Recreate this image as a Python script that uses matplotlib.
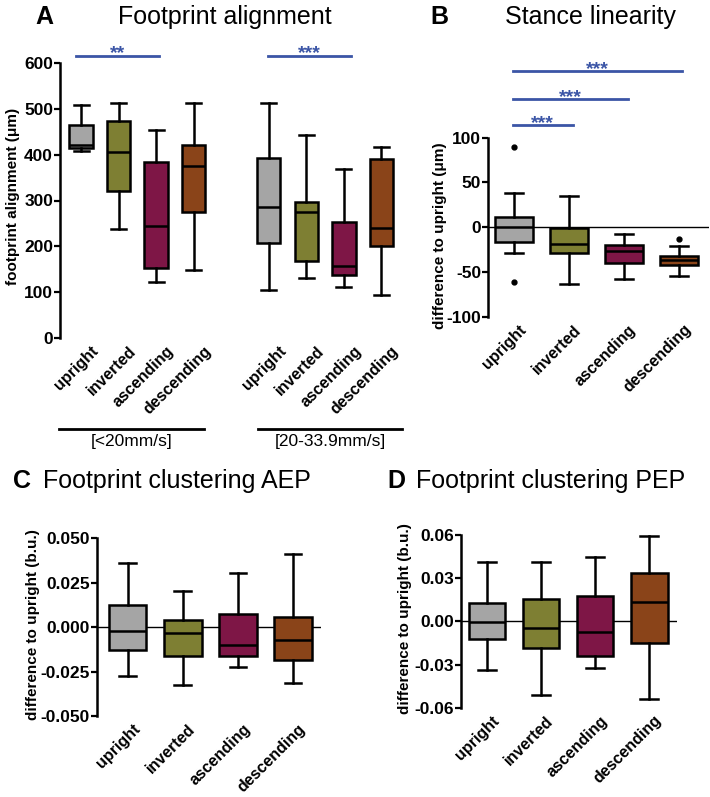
import matplotlib
matplotlib.use("Agg")
import matplotlib.pyplot as plt

plt.rcParams["font.family"] = "Liberation Sans"
plt.rcParams["axes.unicode_minus"] = False

conditions = ["upright", "inverted", "ascending", "descending"]
colors = ["#a5a5a5", "#7e7f33", "#7e1646", "#8a4419"]
blue = "#3b55a6"

# panel A: footprint alignment (um), two speed groups
# each box: (whislo, q1, median, q3, whishi)
a_slow = [(408, 415, 420, 465, 508), (237, 321, 406, 474, 512),
          (123, 152, 244, 385, 454), (148, 276, 375, 421, 512)]
a_fast = [(105, 207, 286, 392, 512), (132, 169, 274, 297, 443),
          (111, 137, 158, 254, 369), (94, 201, 241, 390, 417)]
a_groups = ["[<20mm/s]", "[20-33.9mm/s]"]

# panel B: stance linearity, difference to upright (um)
b_boxes = [(-29, -16, 0, 11, 38), (-64, -29, -19, -0.5, 35),
           (-58, -40, -27, -20, -8), (-55, -42, -37, -32, -21)]
b_fliers = [[90, -61], [], [], [-13.5]]

# panel C: footprint clustering AEP (b.u.)
c_boxes = [(-0.0274, -0.0126, -0.0019, 0.0123, 0.0362),
           (-0.0326, -0.016, -0.0032, 0.0038, 0.0202),
           (-0.0226, -0.0164, -0.0098, 0.0072, 0.0302),
           (-0.0317, -0.0185, -0.0075, 0.0057, 0.0411)]

# panel D: footprint clustering PEP (b.u.)
d_boxes = [(-0.0339, -0.0122, -0.0007, 0.0127, 0.0409),
           (-0.0515, -0.0185, -0.0048, 0.0155, 0.0409),
           (-0.0325, -0.0242, -0.0076, 0.0173, 0.045),
           (-0.0538, -0.015, 0.0132, 0.0339, 0.0595)]

W, H = 710, 797
TICK_FS = 12.5
XLAB_FS = 11.5
YLAB_FS = 11


def px_axes(left, top, right, bottom):
    return [left / W, 1 - bottom / H, (right - left) / W, (bottom - top) / H]


def draw_boxes(ax, boxes, positions, width, capwidth, fliers=None, cols=None):
    stats = []
    for i, (lo, q1, med, q3, hi) in enumerate(boxes):
        stats.append({"whislo": lo, "q1": q1, "med": med, "q3": q3,
                      "whishi": hi, "fliers": fliers[i] if fliers else []})
    res = ax.bxp(stats, positions=positions, widths=width,
                 capwidths=capwidth, patch_artist=True, showfliers=True,
                 boxprops=dict(linewidth=1.8, edgecolor="black"),
                 medianprops=dict(color="black", linewidth=1.8),
                 whiskerprops=dict(color="black", linewidth=1.8),
                 capprops=dict(color="black", linewidth=1.8),
                 flierprops=dict(marker="o", markersize=3.5,
                                 markerfacecolor="black",
                                 markeredgecolor="black"))
    for patch, c in zip(res["boxes"], cols or colors):
        patch.set_facecolor(c)
    for art in res["boxes"] + res["medians"] + res["whiskers"] + res["caps"]:
        art.set_zorder(3)


def style(ax, yticks, ylabels, labels, positions, xshift=0.1):
    for s in ["top", "right", "bottom"]:
        ax.spines[s].set_visible(False)
    ax.spines["left"].set_linewidth(1.8)
    ax.set_yticks(yticks)
    ax.set_yticklabels(ylabels, fontsize=TICK_FS, fontweight="bold")
    ax.tick_params(axis="y", length=4, width=1.6, pad=1)
    ax.tick_params(axis="x", length=0, pad=4)
    ax.set_xticks(positions)
    ax.set_xticklabels(labels, rotation=45, ha="right", va="center",
                       rotation_mode="anchor", fontsize=XLAB_FS,
                       fontweight="bold")
    shift = matplotlib.transforms.ScaledTranslation(xshift, -0.05,
                                                    ax.figure.dpi_scale_trans)
    for t in ax.get_xticklabels():
        t.set_transform(t.get_transform() + shift)


fig = plt.figure(figsize=(W / 100, H / 100), dpi=100)

# ---------- A ----------
axA = fig.add_axes(px_axes(60, 63, 404, 338))
posA = [1, 2, 3, 4, 6, 7, 8, 9]
draw_boxes(axA, a_slow + a_fast, posA, 0.62, 0.4, cols=colors + colors)
axA.set_xlim(0.44, 9.6)
axA.set_ylim(0, 600)
style(axA, [0, 100, 200, 300, 400, 500, 600],
      ["0", "100", "200", "300", "400", "500", "600"], conditions * 2, posA,
      xshift=0.15)
axA.set_ylabel("footprint alignment (\u03bcm)", fontsize=YLAB_FS,
               fontweight="bold")
axA.yaxis.set_label_coords(-0.116, 0.513)
for (x0, x1, stars) in [(0.87, 3.07, "**"), (5.97, 8.18, "***")]:
    axA.plot([x0, x1], [615, 615], color=blue, lw=2, clip_on=False)
    axA.text((x0 + x1) / 2, 611, stars, color=blue, fontsize=14,
             fontweight="bold", ha="center", va="baseline")
for (x0, x1), lab in zip([(0.41, 4.27), (5.71, 9.56)], a_groups):
    axA.plot([x0, x1], [-0.331, -0.331], color="black", lw=2, clip_on=False,
             transform=axA.get_xaxis_transform())
    axA.text((x0 + x1) / 2, -0.378, lab, fontsize=12.5, ha="center",
             va="center", transform=axA.get_xaxis_transform())

# ---------- B ----------
axB = fig.add_axes(px_axes(488, 137.7, 709, 316.7))
posB = [1, 2, 3, 4]
axB.axhline(0, color="black", lw=1, zorder=1)
draw_boxes(axB, b_boxes, posB, 0.69, 0.33, fliers=b_fliers)
axB.set_xlim(0.53, 4.55)
axB.set_ylim(-100, 100)
style(axB, [-100, -50, 0, 50, 100], ["-100", "-50", "0", "50", "100"],
      conditions, posB)
axB.set_ylabel("difference to upright (\u03bcm)", fontsize=YLAB_FS,
               fontweight="bold")
axB.yaxis.set_label_coords(-0.186, 0.45)
for (x0, x1, yv) in [(0.98, 2.07, 114), (0.98, 3.08, 143), (0.98, 4.05, 174)]:
    axB.plot([x0, x1], [yv, yv], color=blue, lw=2, clip_on=False)
    axB.text((x0 + x1) / 2, yv - 3, "***", color=blue, fontsize=14,
             fontweight="bold", ha="center", va="baseline")

# ---------- C ----------
axC = fig.add_axes(px_axes(96.7, 538.3, 320.7, 716))
axC.axhline(0, color="black", lw=1, zorder=1)
draw_boxes(axC, c_boxes, posB, 0.68, 0.3)
axC.set_xlim(0.44, 4.5)
axC.set_ylim(-0.05, 0.05)
style(axC, [-0.05, -0.025, 0, 0.025, 0.05],
      ["-0.050", "-0.025", "0.000", "0.025", "0.050"], conditions, posB)
axC.set_ylabel("difference to upright (b.u.)", fontsize=YLAB_FS,
               fontweight="bold")
axC.yaxis.set_label_coords(-0.253, 0.515)

# ---------- D ----------
axD = fig.add_axes(px_axes(461, 535, 676.7, 707.7))
axD.axhline(0, color="black", lw=1, zorder=1)
draw_boxes(axD, d_boxes, posB, 0.68, 0.34)
axD.set_xlim(0.52, 4.51)
axD.set_ylim(-0.06, 0.06)
style(axD, [-0.06, -0.03, 0, 0.03, 0.06],
      ["-0.06", "-0.03", "0.00", "0.03", "0.06"], conditions, posB)
axD.set_ylabel("difference to upright (b.u.)", fontsize=YLAB_FS,
               fontweight="bold")
axD.yaxis.set_label_coords(-0.227, 0.514)

# ---------- panel titles ----------
titles = [("A", 35, "Footprint alignment", 118, 24),
          ("B", 430, "Stance linearity", 505, 24),
          ("C", 13, "Footprint clustering AEP", 43, 488),
          ("D", 387, "Footprint clustering PEP", 416, 488)]
for letter, lx, title, tx, by in titles:
    fig.text(lx / W, 1 - by / H, letter, fontsize=18, fontweight="bold",
             va="baseline", ha="left")
    fig.text(tx / W, 1 - by / H, title, fontsize=18, va="baseline", ha="left")

fig.savefig("out.png", dpi=100)
